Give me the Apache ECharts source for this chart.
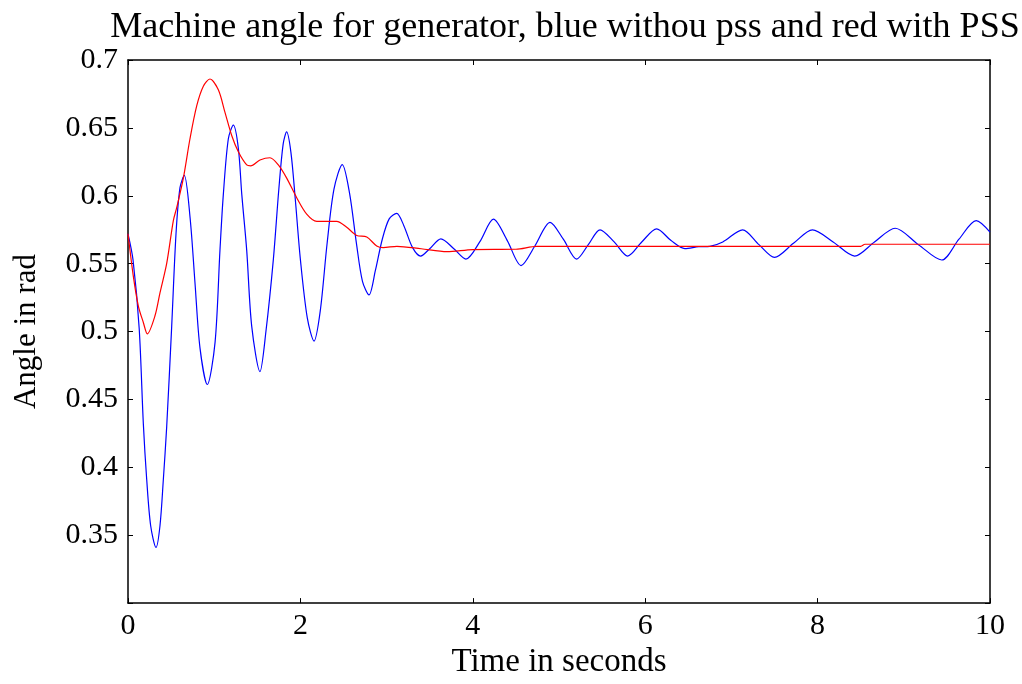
<!DOCTYPE html>
<html>
<head>
<meta charset="utf-8">
<script src="https://cdn.jsdelivr.net/npm/echarts@6/dist/echarts.min.js"></script>
<style>
  html, body { margin: 0; padding: 0; background: #fff; }
  #chart { width: 1022px; height: 684px; }
</style>
</head>
<body>
<div id="chart"></div>
<script>
// time (s) and angle (rad)
var tBlue = [0, 0.058, 0.13, 0.178, 0.217, 0.263, 0.325, 0.371, 0.41, 0.449, 0.507, 0.557, 0.603, 0.653,
  0.72, 0.777, 0.835, 0.92, 1.01, 1.067, 1.106, 1.164, 1.222, 1.28, 1.32, 1.377, 1.435, 1.531,
  1.6, 1.686, 1.75, 1.8, 1.84, 1.89, 1.94, 2.0, 2.08, 2.158, 2.23, 2.31, 2.39, 2.486, 2.57, 2.65,
  2.72, 2.796, 2.87, 2.95, 3.03, 3.117, 3.2, 3.3, 3.395, 3.5, 3.63, 3.78, 3.92, 4.08, 4.24, 4.4,
  4.56, 4.72, 4.896, 5.05, 5.205, 5.34, 5.476, 5.64, 5.797, 5.96, 6.133, 6.3, 6.46, 6.62, 6.75,
  6.9, 7.13, 7.32, 7.5, 7.72, 7.94, 8.18, 8.43, 8.66, 8.9, 9.17, 9.44, 9.64, 9.84, 10];
var vBlue = [0.572, 0.553, 0.502, 0.432, 0.391, 0.357, 0.341, 0.357, 0.391, 0.43, 0.504, 0.572, 0.606, 0.615,
  0.584, 0.536, 0.488, 0.461, 0.492, 0.56, 0.601, 0.642, 0.652, 0.635, 0.601, 0.56, 0.504, 0.4705,
  0.5, 0.553, 0.605, 0.638, 0.647, 0.632, 0.598, 0.553, 0.51, 0.493, 0.515, 0.565, 0.605, 0.623, 0.602, 0.565,
  0.537, 0.527, 0.545, 0.568, 0.583, 0.587, 0.578, 0.562, 0.5556, 0.561, 0.5683, 0.561, 0.5534, 0.566, 0.5828, 0.567,
  0.5486, 0.563, 0.5804, 0.568, 0.5534, 0.564, 0.5749, 0.566, 0.5556, 0.566, 0.5756, 0.567, 0.5611, 0.5625, 0.5628,
  0.566, 0.5749, 0.564, 0.5546, 0.565, 0.5749, 0.566, 0.5556, 0.566, 0.5761, 0.564, 0.5527, 0.568, 0.5817, 0.5732];

var tRed = [0, 0.062, 0.12, 0.178, 0.224, 0.313, 0.371, 0.449, 0.526, 0.565, 0.642, 0.719, 0.797, 0.874,
  0.951, 1.048, 1.125, 1.203, 1.28, 1.377, 1.423, 1.531, 1.647, 1.744, 1.841, 1.957, 2.073, 2.19,
  2.42, 2.537, 2.653, 2.77, 2.885, 2.96, 3.12, 3.4, 3.7, 4.0, 4.5, 4.74, 6.0, 8.5, 8.55, 10];
var vRed = [0.572, 0.5406, 0.5188, 0.5067, 0.4983, 0.5116, 0.5285, 0.5502, 0.5817, 0.5913, 0.613, 0.642, 0.6662, 0.6807,
  0.686, 0.678, 0.6614, 0.6444, 0.6324, 0.6227, 0.622, 0.6263, 0.628, 0.6227, 0.613, 0.5986, 0.5865, 0.5812,
  0.5812, 0.5768, 0.5708, 0.5696, 0.563, 0.5618, 0.5628, 0.561, 0.5588, 0.5604, 0.5606, 0.5628, 0.5628, 0.5628, 0.5643, 0.5643];

var xTicks = [0, 2, 4, 6, 8, 10];
var yTicks = [0.35, 0.4, 0.45, 0.5, 0.55, 0.6, 0.65, 0.7];

function pairs(t, v) {
  return t.map(function (x, i) { return [x, v[i]]; });
}

var serif = '"Liberation Serif", "Times New Roman", serif';
var frame = { show: true, onZero: false, lineStyle: { color: '#000', width: 1.5 } };
var inTick = { show: true, inside: true, length: 5, lineStyle: { color: '#000', width: 1 } };

var chart = echarts.init(document.getElementById('chart'));
chart.setOption({
  animation: false,
  backgroundColor: '#fff',
  title: {
    text: 'Machine angle for generator, blue withou pss and red with PSS',
    left: 560,
    top: 5,
    textAlign: 'center',
    textStyle: { fontFamily: serif, fontSize: 36, fontWeight: 'normal', color: '#000' }
  },
  grid: { left: 128, right: 32, top: 60, bottom: 72 },
  xAxis: [
    {
      type: 'value', min: 0, max: 10, interval: 2,
      name: 'Time in seconds', nameLocation: 'middle', nameGap: 38,
      nameTextStyle: { fontFamily: serif, fontSize: 33, color: '#000' },
      axisLine: frame, axisTick: inTick, splitLine: { show: false },
      axisLabel: { fontFamily: serif, fontSize: 30, color: '#000', margin: 8,
        formatter: function (v) { return xTicks.indexOf(v) >= 0 ? String(v) : ''; } }
    },
    {
      type: 'value', position: 'top', min: 0, max: 10, interval: 2,
      axisLine: frame, axisTick: inTick, axisLabel: { show: false }, splitLine: { show: false }
    }
  ],
  yAxis: [
    {
      type: 'value', min: 0.3, max: 0.7, interval: 0.05,
      name: 'Angle in rad', nameLocation: 'middle', nameGap: 86, nameRotate: 90,
      nameTextStyle: { fontFamily: serif, fontSize: 31, color: '#000' },
      axisLine: frame, axisTick: inTick, splitLine: { show: false },
      axisLabel: { fontFamily: serif, fontSize: 30, color: '#000', margin: 10,
        formatter: function (v) {
          var r = Math.round(v * 100) / 100;
          return yTicks.indexOf(r) >= 0 ? String(r) : '';
        } }
    },
    {
      type: 'value', position: 'right', min: 0.3, max: 0.7, interval: 0.05,
      axisLine: frame, axisTick: inTick, axisLabel: { show: false }, splitLine: { show: false }
    }
  ],
  series: [
    {
      name: 'without PSS', type: 'line', data: pairs(tBlue, vBlue),
      smooth: 0.3, showSymbol: false,
      lineStyle: { color: '#0000ff', width: 1.2 }
    },
    {
      name: 'with PSS', type: 'line', data: pairs(tRed, vRed),
      smooth: 0.3, showSymbol: false,
      lineStyle: { color: '#ff0000', width: 1.2 }
    }
  ]
});
</script>
</body>
</html>
